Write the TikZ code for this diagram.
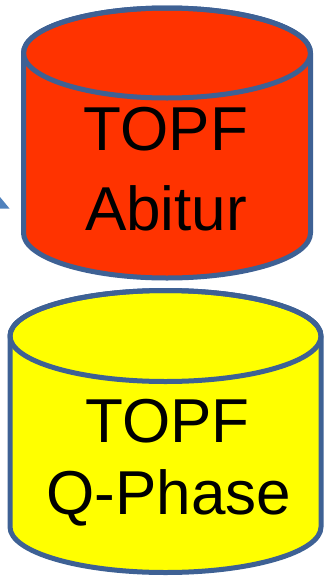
\documentclass[tikz,border=0pt]{standalone}
\usepackage{fontspec}
\setmainfont{Liberation Sans}
\definecolor{edgeblue}{HTML}{3E6194}
\definecolor{tipblue}{HTML}{4F81BD}
\definecolor{topred}{HTML}{FF3300}
\definecolor{qyellow}{HTML}{FFFF00}
\begin{document}
\begin{tikzpicture}[x=1pt,y=1pt,
  cyl/.style={draw=edgeblue,line width=5pt,line join=round},
  big/.style={font=\fontsize{62}{80}\selectfont,inner sep=0pt,anchor=base}]
\useasboundingbox (0,0) rectangle (324,-576);
% arrow tip at left
\fill[tipblue] (0,-197) -- (9.5,-208.5) -- (0,-208.5) -- cycle;
% red cylinder
\path[cyl,fill=topred] (23.5,-53) -- (23.5,-233)
  arc[start angle=180,end angle=360,x radius=143.5,y radius=45]
  -- (310.5,-53)
  arc[start angle=0,end angle=180,x radius=143.5,y radius=45] -- cycle;
\draw[cyl] (167,-53) ellipse[x radius=143.5,y radius=45];
% yellow cylinder
\path[cyl,fill=qyellow] (10,-336) -- (10,-527)
  arc[start angle=180,end angle=360,x radius=155.5,y radius=45.5]
  -- (321,-336)
  arc[start angle=0,end angle=180,x radius=155.5,y radius=45.5] -- cycle;
\draw[cyl] (165.5,-336) ellipse[x radius=155.5,y radius=45.5];
% texts
\node[big] (a1) at (166,-150) {TOPF};
\node[big] (a2) at (166,-230) {Abitur};
\node[big] (b1) at (167.5,-442) {TOPF};
\node[big] (b2) at (169,-514) {Q-Phase};
\end{tikzpicture}
\end{document}
